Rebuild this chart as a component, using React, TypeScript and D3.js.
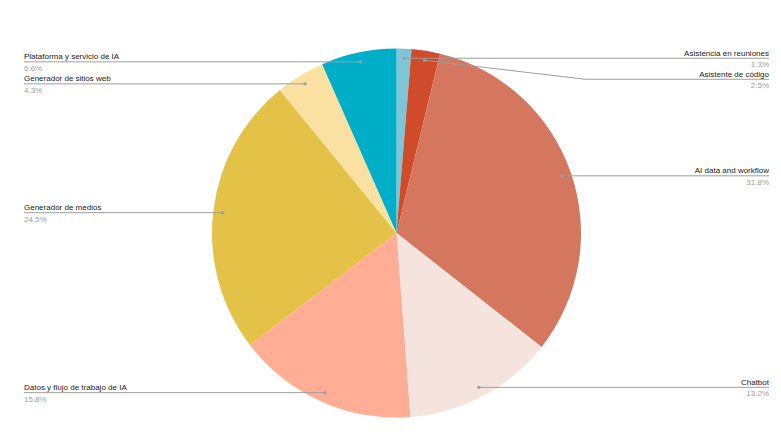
import React from "react";
import * as d3 from "d3";

const categories = [
  "Asistencia en reuniones",
  "Asistente de código",
  "AI data and workflow",
  "Chatbot",
  "Datos y flujo de trabajo de IA",
  "Generador de medios",
  "Generador de sitios web",
  "Plataforma y servicio de IA",
];
const values = [1.3, 2.5, 31.8, 13.2, 15.8, 24.5, 4.3, 6.6];
const colors = ["#7cc6d6", "#cf4b2b", "#d4775e", "#f5e4de", "#ffad94", "#e4c147", "#fbe1a1", "#00aec8"];

const W = 781;
const H = 440;
const cx = 396.5;
const cy = 233;
const R = 184.5;
const dotR = R * 0.948;
const leftX = 24;
const rightX = 769;
const elbowRight = 585;
const spacing = 21;

export default function App() {
  const pie = d3.pie<number>().sort(null).value((d) => d);
  const arcs = pie(values);
  const arcGen = d3.arc<d3.PieArcDatum<number>>().innerRadius(0).outerRadius(R);
  const dotArc = d3.arc<d3.PieArcDatum<number>>().innerRadius(dotR).outerRadius(dotR);

  const items = arcs.map((a, i) => {
    const [dx, dy] = dotArc.centroid(a);
    const mid = (a.startAngle + a.endAngle) / 2;
    return { i, a, dx: cx + dx, dy: cy + dy, right: mid < Math.PI, lineY: cy + dy };
  });
  // resolve overlaps per side (top to bottom)
  [true, false].forEach((side) => {
    const s = items.filter((d) => d.right === side).sort((p, q) => p.dy - q.dy);
    for (let k = 1; k < s.length; k++) {
      if (s[k].lineY < s[k - 1].lineY + spacing) s[k].lineY = s[k - 1].lineY + spacing;
    }
  });

  const fmt = (v: number) => v.toFixed(1) + "%";
  const total = d3.sum(values);

  return (
    <svg
      width={W}
      height={H}
      style={{ position: "absolute", left: 0, top: 0, background: "#fff" }}
      fontFamily="'Liberation Sans', Arial, sans-serif"
    >
      <g transform={`translate(${cx},${cy})`}>
        {arcs.map((a, i) => (
          <path key={i} d={arcGen(a) || ""} fill={colors[i]} />
        ))}
      </g>
      {items.map((d) => {
        const pts = d.right
          ? [
              [d.dx, d.dy],
              [Math.max(elbowRight, d.dx), d.lineY],
              [rightX, d.lineY],
            ]
          : [
              [d.dx, d.dy],
              [leftX, d.lineY],
            ];
        const line = d3.line()(pts as [number, number][]) || "";
        const tx = d.right ? rightX : leftX;
        const anchor = d.right ? "end" : "start";
        return (
          <g key={d.i}>
            <path d={line} fill="none" stroke="#9e9e9e" strokeWidth={1} />
            <circle cx={d.dx} cy={d.dy} r={1.6} fill="#9e9e9e" />
            <text x={tx} y={d.lineY - 2.5} fontSize={8} fill="#222" textAnchor={anchor}>
              {categories[d.i]}
            </text>
            <text x={tx} y={d.lineY + 9} fontSize={8} fill="#9e9e9e" textAnchor={anchor}>
              {fmt((values[d.i] / total) * 100)}
            </text>
          </g>
        );
      })}
    </svg>
  );
}
